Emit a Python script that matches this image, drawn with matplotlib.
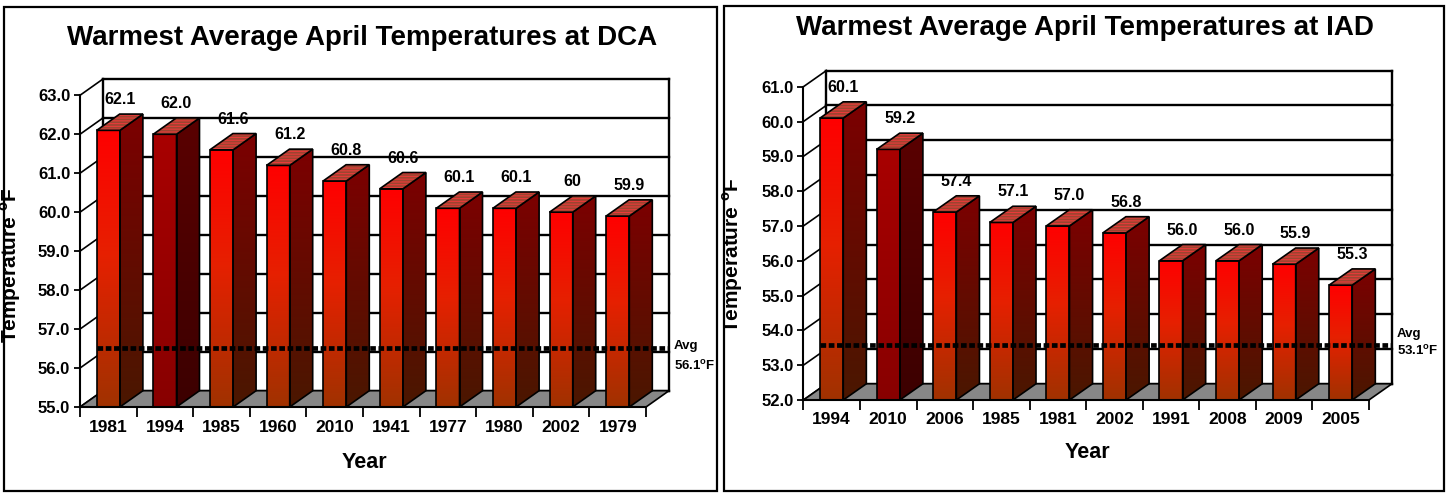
import numpy as np
import matplotlib.pyplot as plt
from matplotlib.patches import Polygon, Rectangle
from matplotlib.colors import LinearSegmentedColormap

plt.rcParams['font.family'] = ['Liberation Sans', 'DejaVu Sans']
plt.rcParams['font.weight'] = 'bold'
plt.rcParams['mathtext.fontset'] = 'custom'
plt.rcParams['mathtext.rm'] = 'Liberation Sans:bold'
plt.rcParams['mathtext.bf'] = 'Liberation Sans:bold'
plt.rcParams['hatch.linewidth'] = 0.8

# DCA data
dca_years = ['1981', '1994', '1985', '1960', '2010', '1941', '1977', '1980', '2002', '1979']
dca_temps = [62.1, 62.0, 61.6, 61.2, 60.8, 60.6, 60.1, 60.1, 60.0, 59.9]
dca_labels = ['62.1', '62.0', '61.6', '61.2', '60.8', '60.6', '60.1', '60.1', '60', '59.9']
dca_avg = 56.1

# IAD data
iad_years = ['1994', '2010', '2006', '1985', '1981', '2002', '1991', '2008', '2009', '2005']
iad_temps = [60.1, 59.2, 57.4, 57.1, 57.0, 56.8, 56.0, 56.0, 55.9, 55.3]
iad_labels = ['60.1', '59.2', '57.4', '57.1', '57.0', '56.8', '56.0', '56.0', '55.9', '55.3']
iad_avg = 53.1

W, H = 1447, 493

front_cmap = LinearSegmentedColormap.from_list('front', [(0, '#a03200'), (0.55, '#e62000'), (1, '#ff0000')])
side_cmap = LinearSegmentedColormap.from_list('side', ['#4a1700', '#7c0000'])
front_dark = LinearSegmentedColormap.from_list('fdark', ['#880000', '#a80000'])
side_dark = LinearSegmentedColormap.from_list('sdark', ['#3c0000', '#5a0000'])
grad = np.linspace(0, 1, 256).reshape(-1, 1)


def px_axes(fig, left, right, top, bottom):
    return fig.add_axes([left / W, 1 - bottom / H, (right - left) / W, (bottom - top) / H])


def draw_panel(ax, years, temps, labels, avg, ymin, ymax, dx, dy, avg_offsets):
    n = len(years)
    x = np.arange(n)
    bw = 0.41
    xl, xr = -0.5, n - 0.5
    ticks = np.arange(ymin, ymax + 1)

    # walls
    for t in ticks:
        ax.plot([xl, xl + dx], [t, t + dy], color='black', lw=1.2, clip_on=False, zorder=1)
        ax.plot([xl + dx, xr + dx], [t + dy, t + dy], color='black', lw=1.7, clip_on=False, zorder=1)
    for xe in (xl + dx, xr + dx):
        ax.plot([xe, xe], [ymin + dy, ymax + dy], color='black', lw=1.7, clip_on=False, zorder=1)
    floor = Polygon([(xl, ymin), (xr, ymin), (xr + dx, ymin + dy), (xl + dx, ymin + dy)],
                    closed=True, fc='#878787', ec='black', lw=1.2, zorder=2, clip_on=False)
    ax.add_patch(floor)

    # bars
    for i, v in enumerate(temps):
        x0, x1 = i - bw / 2, i + bw / 2
        cf, cs = (front_dark, side_dark) if i == 1 else (front_cmap, side_cmap)
        front = Polygon([(x0, ymin), (x1, ymin), (x1, v), (x0, v)], closed=True,
                        fc='none', ec='black', lw=1.2, zorder=4)
        side = Polygon([(x1, ymin), (x1 + dx, ymin + dy), (x1 + dx, v + dy), (x1, v)], closed=True,
                       fc='none', ec='black', lw=1.2, zorder=4)
        ax.add_patch(front)
        ax.add_patch(side)
        im = ax.imshow(grad, cmap=cf, extent=[x0, x1, ymin, v], origin='lower',
                       aspect='auto', zorder=3, interpolation='bilinear')
        im.set_clip_path(front)
        im = ax.imshow(grad, cmap=cs, extent=[x1, x1 + dx, ymin, v + dy], origin='lower',
                       aspect='auto', zorder=3, interpolation='bilinear')
        im.set_clip_path(side)
        top_pts = [(x0, v), (x1, v), (x1 + dx, v + dy), (x0 + dx, v + dy)]
        ax.add_patch(Polygon(top_pts, closed=True, fc='#9c4530', ec='#e83a3a',
                             hatch='------', lw=0, zorder=4))
        ax.add_patch(Polygon(top_pts, closed=True, fc='none', ec='black', lw=1.2, zorder=5))
        ax.annotate(labels[i], xy=(i + dx / 2, v + dy), xytext=(0, 5), textcoords='offset points',
                    ha='center', va='bottom', fontsize=11.5, fontweight='bold')

    # average line
    ax.plot([-bw / 2, xr + dx], [avg + dy, avg + dy], color='black', lw=3.4,
            ls=(0, (1.2, 0.55)), zorder=10, clip_on=False)
    ax.annotate('Avg', xy=(xr + dx, avg + dy), xytext=(3.5, avg_offsets[0]), textcoords='offset points',
                ha='left', va='center', fontsize=9.5, fontweight='bold')
    ax.annotate('%.1f$^{\\mathbf{o}}$F' % avg, xy=(xr + dx, avg + dy), xytext=(3.5, avg_offsets[1]),
                textcoords='offset points', ha='left', va='center', fontsize=9.5, fontweight='bold')

    # front axes
    ax.set_xlim(xl, xr + dx)
    ax.set_ylim(ymin, ymax + dy)
    for s in ('top', 'right'):
        ax.spines[s].set_visible(False)
    ax.spines['left'].set_bounds(ymin, ymax)
    ax.spines['bottom'].set_bounds(xl, xr)
    for s in ('left', 'bottom'):
        ax.spines[s].set_linewidth(1.5)
        ax.spines[s].set_zorder(6)
    ax.set_yticks(ticks)
    ax.set_yticklabels(['%.1f' % t for t in ticks], fontsize=12, fontweight='bold')
    ax.tick_params(axis='y', length=4.5, width=1.3, pad=2.5)
    ax.set_xticks(x)
    ax.set_xticklabels(years, fontsize=12.5, fontweight='bold')
    ax.set_xticks(np.arange(xl, xr + 0.01, 1), minor=True)
    ax.tick_params(axis='x', which='major', length=0, pad=9)
    ax.tick_params(axis='x', which='minor', length=7, width=1.3)
    ax.set_facecolor('none')


fig = plt.figure(figsize=(W / 100, H / 100), dpi=100)

# DCA panel
ax1 = px_axes(fig, 80, 669, 79, 407)
draw_panel(ax1, dca_years, dca_temps, dca_labels, dca_avg, 55, 63, 0.406, 0.418, (1, -13))

# IAD panel
ax2 = px_axes(fig, 803.4, 1392, 70.5, 400)
draw_panel(ax2, iad_years, iad_temps, iad_labels, iad_avg, 52, 61, 0.408, 0.466, (8, -4))

# titles and axis labels
fig.text(362 / W, 1 - 38 / H, 'Warmest Average April Temperatures at DCA', ha='center', va='center',
         fontsize=20, fontweight='bold')
fig.text(1085 / W, 1 - 28 / H, 'Warmest Average April Temperatures at IAD', ha='center', va='center',
         fontsize=20, fontweight='bold')
fig.text(364 / W, 1 - 462 / H, 'Year', ha='center', va='center', fontsize=15.5, fontweight='bold')
fig.text(1087 / W, 1 - 453 / H, 'Year', ha='center', va='center', fontsize=15.5, fontweight='bold')
fig.text(10.5 / W, 1 - 265 / H, 'Temperature $^{\\mathbf{o}}$F', rotation=90, ha='center', va='center',
         fontsize=15, fontweight='bold')
fig.text(733 / W, 1 - 255 / H, 'Temperature $^{\\mathbf{o}}$F', rotation=90, ha='center', va='center',
         fontsize=15, fontweight='bold')

# panel borders
for left, right, top in ((4, 716.5, 7), (723.5, 1444, 5.5)):
    fig.add_artist(Rectangle((left / W, 1 - 491 / H), (right - left) / W, (491 - top) / H,
                             transform=fig.transFigure, fill=False, ec='black', lw=1.6, zorder=20))

fig.savefig('out.png', dpi=100)
